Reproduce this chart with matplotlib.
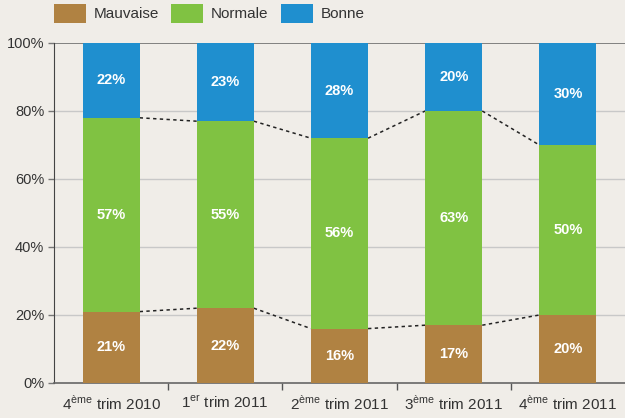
import matplotlib
matplotlib.use("Agg")
import matplotlib.pyplot as plt
from matplotlib.patches import Patch
import numpy as np

plt.rcParams['font.family'] = ['Liberation Sans Narrow', 'Liberation Sans', 'DejaVu Sans']
plt.rcParams['mathtext.fontset'] = 'custom'
plt.rcParams['mathtext.rm'] = 'Liberation Sans'

categories = ["4$^{\\mathrm{ème}}$ trim 2010", "1$^{\\mathrm{er}}$ trim 2011",
              "2$^{\\mathrm{ème}}$ trim 2011", "3$^{\\mathrm{ème}}$ trim 2011",
              "4$^{\\mathrm{ème}}$ trim 2011"]
mauvaise = [21, 22, 16, 17, 20]
normale = [57, 55, 56, 63, 50]
bonne = [22, 23, 28, 20, 30]

series_names = ["Mauvaise", "Normale", "Bonne"]
colors = ["#b08242", "#80c242", "#1f8fcf"]
bg = "#f0ede8"
txt = "#333333"

fig = plt.figure(figsize=(6.25, 4.18), dpi=100, facecolor=bg)
ax = fig.add_axes([54 / 625, 1 - 383 / 418, 1 - 54 / 625, 340 / 418])
ax.set_facecolor(bg)

x = np.arange(len(categories))
w = 0.5
bottom = np.zeros(len(x))
for vals, col in zip([mauvaise, normale, bonne], colors):
    vals = np.array(vals)
    ax.bar(x, vals, w, bottom=bottom, color=col, zorder=3)
    for xi, b, v in zip(x, bottom, vals):
        ax.text(xi, b + v / 2, f"{v}%", ha='center', va='center', color='white',
                fontsize=10.5, fontweight='bold', zorder=4)
    bottom = bottom + vals

# dashed connectors between bars
lvl1 = np.array(mauvaise)
lvl2 = lvl1 + np.array(normale)
for lvl in (lvl1, lvl2):
    for i in range(len(x) - 1):
        ax.plot([x[i] + w / 2, x[i + 1] - w / 2], [lvl[i], lvl[i + 1]],
                color='#222222', lw=1.1, ls=(0, (2.2, 2.2)), zorder=2)

ax.set_xlim(-0.5, len(x) - 0.5)
ax.set_ylim(0, 100)
ax.set_yticks([0, 20, 40, 60, 80, 100])
ax.set_yticklabels([f"{v}%" for v in range(0, 101, 20)])
for yv in [20, 40, 60, 80]:
    ax.axhline(yv, color='#c8c8c8', lw=1, zorder=1)
ax.axhline(100, color='#6e6e6e', lw=1.2, zorder=1)

ax.set_xticks(x)
ax.set_xticklabels(categories)
ax.set_xticks(np.arange(0.5, len(x) - 0.5, 1), minor=True)
ax.tick_params(axis='x', which='major', length=0, pad=8, labelsize=11, labelcolor=txt)
ax.tick_params(axis='x', which='minor', length=5, width=1, color='#555555', direction='out')
ax.tick_params(axis='y', length=4, width=1, color='#777777', labelsize=10.5,
               labelcolor=txt, pad=3)

for s in ['top', 'right']:
    ax.spines[s].set_visible(False)
ax.spines['left'].set_color('#444444')
ax.spines['bottom'].set_color('#666666')
ax.spines['bottom'].set_linewidth(1.2)

handles = [Patch(facecolor=c, edgecolor='none') for c in colors]
fig.legend(handles, series_names, loc='upper left', bbox_to_anchor=(54 / 625, 1 - 4 / 418),
           ncol=3, frameon=False, fontsize=11, handlelength=2.1, handleheight=1.5,
           handletextpad=0.5, columnspacing=0.8, borderpad=0, borderaxespad=0,
           labelcolor=txt)

fig.savefig("out.png", dpi=100, facecolor=bg)
